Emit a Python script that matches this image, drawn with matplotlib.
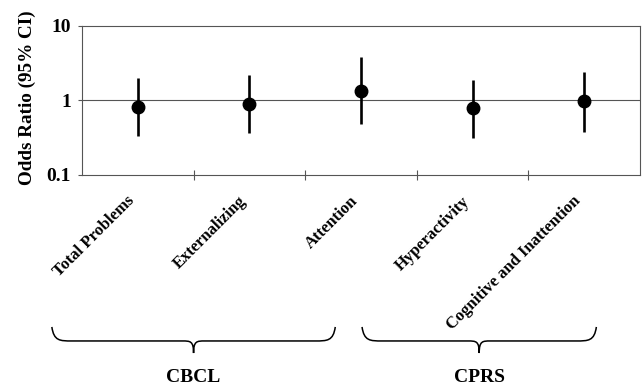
import matplotlib
matplotlib.use("Agg")
import matplotlib.pyplot as plt
from matplotlib.path import Path
from matplotlib.patches import PathPatch
import matplotlib.transforms as mtransforms
import numpy as np

# data
measures = ["Total Problems", "Externalizing", "Attention", "Hyperactivity",
            "Cognitive and Inattention"]
odds_ratio = [0.83, 0.89, 1.36, 0.79, 0.97]
ci_low = [0.33, 0.37, 0.48, 0.31, 0.38]
ci_high = [1.98, 2.20, 3.86, 1.89, 2.41]
groups = ["CBCL", "CPRS"]

plt.rcParams["font.family"] = ["Liberation Serif", "DejaVu Serif"]
plt.rcParams["font.weight"] = "bold"

fig = plt.figure(figsize=(6.42, 3.85), dpi=100)
ax = fig.add_axes([0.1277, 0.5455, 0.869, 0.387])

x = np.arange(len(measures))
or_np = np.array(odds_ratio)
yerr = np.vstack([or_np - np.array(ci_low), np.array(ci_high) - or_np])
ax.errorbar(x, or_np, yerr=yerr, fmt="o", color="black", ms=9,
            elinewidth=1.9, capsize=0, zorder=3)

ax.set_yscale("log")
ax.set_ylim(0.1, 10)
ax.set_xlim(-0.5, len(measures) - 0.5)
ax.set_yticks([0.1, 1, 10])
ax.set_yticklabels(["0.1", "1", "10"], fontsize=14, fontweight="bold")
ax.yaxis.set_minor_locator(matplotlib.ticker.NullLocator())
ax.axhline(1, color="#555555", lw=0.8, zorder=1)

for s in ax.spines.values():
    s.set_color("#555555")
    s.set_linewidth(0.8)
ax.tick_params(axis="y", length=3, width=0.8, color="#555555", pad=5)

# category separator ticks on the bottom axis
ax.set_xticks(x)
ax.set_xticklabels([])
ax.tick_params(axis="x", which="major", length=0)
ax.set_xticks(np.arange(0.5, len(measures) - 0.5, 1), minor=True)
ax.tick_params(axis="x", which="minor", direction="inout", length=7,
               width=0.8, color="#555555")

ax.set_ylabel("Odds Ratio (95% CI)", fontsize=13.8, fontweight="bold")
ax.yaxis.set_label_coords(-0.082, 0.52)

trans = mtransforms.blended_transform_factory(ax.transData, ax.transAxes)
for i, name in enumerate(measures):
    ax.text(i - 0.05, -0.16, name, transform=trans, rotation=45,
            rotation_mode="anchor", ha="right", va="center",
            fontsize=12, fontweight="bold", clip_on=False)


def brace(x0, x1, y_top, y_mid, y_tip, r_end=0.18, r_tip=0.1):
    xc = (x0 + x1) / 2
    verts = [(x0, y_top), (x0 + r_end * 0.1, y_mid), (x0 + r_end * 0.4, y_mid),
             (x0 + r_end, y_mid),
             (xc - r_tip, y_mid),
             (xc - r_tip * 0.3, y_mid), (xc, y_mid), (xc, y_tip),
             (xc, y_mid), (xc + r_tip * 0.3, y_mid), (xc + r_tip, y_mid),
             (x1 - r_end, y_mid),
             (x1 - r_end * 0.4, y_mid), (x1 - r_end * 0.1, y_mid), (x1, y_top)]
    codes = [Path.MOVETO, Path.CURVE4, Path.CURVE4, Path.CURVE4,
             Path.LINETO,
             Path.CURVE4, Path.CURVE4, Path.CURVE4,
             Path.CURVE4, Path.CURVE4, Path.CURVE4,
             Path.LINETO,
             Path.CURVE4, Path.CURVE4, Path.CURVE4]
    p = PathPatch(Path(verts, codes), transform=trans, fill=False,
                  color="black", lw=1.1, clip_on=False)
    ax.add_patch(p)
    return xc


spans = [(-0.77, 1.77), (2.01, 4.11)]
for g, (a, b) in zip(groups, spans):
    xc = brace(a, b, -1.02, -1.114, -1.195)
    ax.text(xc, -1.356, g, transform=trans, ha="center", va="center",
            fontsize=14, fontweight="bold", clip_on=False)

fig.savefig("out.png", dpi=100)
